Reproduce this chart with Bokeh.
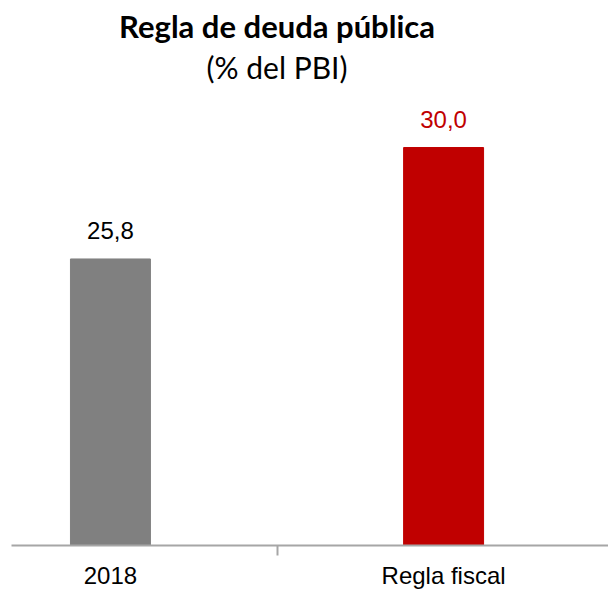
from bokeh.plotting import figure
from bokeh.models import ColumnDataSource, FixedTicker, Label, Range1d
from bokeh.core.properties import value
from bokeh.embed import file_html
from bokeh.resources import INLINE

categories = ["2018", "Regla fiscal"]
values = [25.8, 30.0]
value_labels = ["25,8", "30,0"]
bar_colors = ["#808080", "#c00000"]
label_colors = ["#000000", "#c00000"]
positions = [0, 1]

source = ColumnDataSource(dict(x=positions, top=values, lab=value_labels,
                               color=bar_colors, lcolor=label_colors))

p = figure(frame_width=597, frame_height=537, output_backend="svg",
           toolbar_location=None, x_range=Range1d(-0.297, 1.495),
           y_range=Range1d(15, 35.24), min_border_left=11, min_border_right=0,
           min_border_top=8, min_border_bottom=0)
p.outline_line_color = None
p.grid.visible = False
p.yaxis.visible = False
p.background_fill_color = "white"
p.border_fill_color = "white"

p.vbar(x="x", top="top", bottom=0, width=0.24, color="color", source=source)
p.text(x="x", y="top", text="lab", text_color="lcolor", source=source,
       text_align="center", text_baseline="bottom", y_offset=-20,
       text_font=value("Liberation Sans"), text_font_size="24px")

ax = p.xaxis[0]
ax.ticker = FixedTicker(ticks=positions, minor_ticks=[0.5])
ax.major_label_overrides = {i: c for i, c in zip(positions, categories)}
ax.major_tick_out = 0
ax.major_tick_in = 0
ax.minor_tick_out = 10
ax.minor_tick_in = 0
ax.minor_tick_line_color = "#a6a6a6"
ax.minor_tick_line_width = 2
ax.axis_line_color = "#a6a6a6"
ax.axis_line_width = 2
ax.major_label_standoff = 6
ax.major_label_text_font = "Liberation Sans"
ax.major_label_text_font_size = "24px"
ax.major_label_text_color = "#000000"

p.add_layout(Label(x=0.5, y=520, x_units="data", y_units="screen",
                   text="Regla de deuda pública", text_align="center",
                   text_baseline="middle", text_font="Lato",
                   text_font_style="bold", text_font_size="31px",
                   text_color="#000000"))
p.add_layout(Label(x=0.5, y=479, x_units="data", y_units="screen",
                   text="(% del PBI)", text_align="center",
                   text_baseline="middle", text_font="Lato",
                   text_font_size="30px", text_color="#000000"))

open("out.html", "w").write(file_html(p, INLINE))
